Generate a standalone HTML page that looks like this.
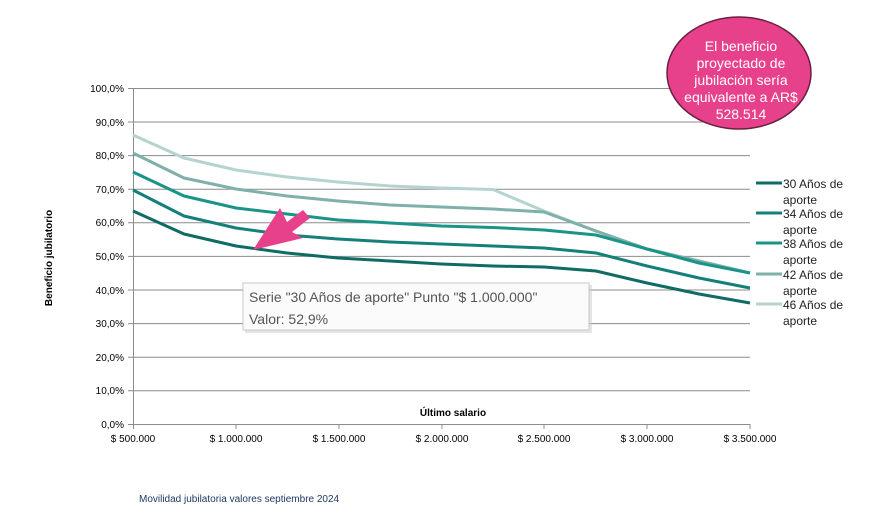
<!DOCTYPE html>
<html><head><meta charset="utf-8"><style>body{margin:0;background:#fff}svg{display:block}</style></head><body>
<svg width="892" height="523" viewBox="0 0 892 523" font-family="Liberation Sans, sans-serif">
<rect width="892" height="523" fill="#fff"/>
<g stroke="#8c8c8c" stroke-width="1">
<line x1="128" y1="88.5" x2="750" y2="88.5"/><line x1="128" y1="122" x2="750" y2="122"/>
<line x1="128" y1="155.6" x2="750" y2="155.6"/><line x1="128" y1="189.2" x2="750" y2="189.2"/>
<line x1="128" y1="222.8" x2="750" y2="222.8"/><line x1="128" y1="256.4" x2="750" y2="256.4"/>
<line x1="128" y1="290" x2="750" y2="290"/><line x1="128" y1="323.6" x2="750" y2="323.6"/>
<line x1="128" y1="357.2" x2="750" y2="357.2"/><line x1="128" y1="390.8" x2="750" y2="390.8"/>
<line x1="128" y1="424.5" x2="750" y2="424.5"/>
<line x1="133.5" y1="88" x2="133.5" y2="429"/>
<line x1="236" y1="424" x2="236" y2="429"/><line x1="339" y1="424" x2="339" y2="429"/>
<line x1="442" y1="424" x2="442" y2="429"/><line x1="544" y1="424" x2="544" y2="429"/>
<line x1="647" y1="424" x2="647" y2="429"/><line x1="750" y1="424" x2="750" y2="429"/>
</g>
<g font-size="10" fill="#000" text-anchor="end">
<text x="124" y="92">100,0%</text><text x="124" y="126">90,0%</text><text x="124" y="159">80,0%</text>
<text x="124" y="193">70,0%</text><text x="124" y="226">60,0%</text><text x="124" y="260">50,0%</text>
<text x="124" y="294">40,0%</text><text x="124" y="327">30,0%</text><text x="124" y="361">20,0%</text>
<text x="124" y="394">10,0%</text><text x="124" y="428">0,0%</text>
</g>
<g font-size="10" fill="#000" text-anchor="middle">
<text x="133" y="442">$ 500.000</text><text x="236" y="442">$ 1.000.000</text><text x="339" y="442">$ 1.500.000</text>
<text x="442" y="442">$ 2.000.000</text><text x="544" y="442">$ 2.500.000</text><text x="647" y="442">$ 3.000.000</text>
<text x="750" y="442">$ 3.500.000</text>
</g>
<text x="453" y="416" font-size="10" font-weight="bold" text-anchor="middle">Último salario</text>
<text transform="translate(52,258) rotate(-90)" font-size="10" font-weight="bold" text-anchor="middle">Beneficio jubilatorio</text>
<g fill="none" stroke-width="3" stroke-linejoin="round">
<polyline stroke="#b5d3cf" points="133,135 184,158 236,170 287,177 338,182 390,186 441,188 493,189.5 544,211 596,231 647,249 699,261 750,273"/>
<polyline stroke="#7fb0a9" points="133,153 184,178 236,189 287,196 338,201 390,205 441,207 493,209 544,212 596,231 647,249 699,261 750,273"/>
<polyline stroke="#1a9488" points="133,172 184,196 236,208 287,214 338,220 390,223 441,226 493,227.5 544,230 596,235 647,249 699,263 750,273"/>
<polyline stroke="#15807a" points="133,190 184,216 236,228 287,235 338,239 390,242 441,244 493,246 544,248 596,253 647,266 699,278 750,288"/>
<polyline stroke="#0f6b63" points="133,211 184,234 236,246 287,253 338,258 390,261 441,264 493,266 544,267 596,271 647,283 699,294 750,303"/>
</g>
<g font-size="12" fill="#222">
<line x1="756" y1="183" x2="782" y2="183" stroke="#0f6b63" stroke-width="3"/><text x="783" y="188">30 Años de</text><text x="783" y="204">aporte</text>
<line x1="756" y1="213" x2="782" y2="213" stroke="#15807a" stroke-width="3"/><text x="783" y="218">34 Años de</text><text x="783" y="234">aporte</text>
<line x1="756" y1="243" x2="782" y2="243" stroke="#1a9488" stroke-width="3"/><text x="783" y="248">38 Años de</text><text x="783" y="264">aporte</text>
<line x1="756" y1="274" x2="782" y2="274" stroke="#7fb0a9" stroke-width="3"/><text x="783" y="279">42 Años de</text><text x="783" y="295">aporte</text>
<line x1="756" y1="304" x2="782" y2="304" stroke="#b5d3cf" stroke-width="3"/><text x="783" y="309">46 Años de</text><text x="783" y="325">aporte</text>
</g>
<rect x="245" y="285" width="347" height="48" fill="#ccc" opacity="0.5"/>
<rect x="243" y="283" width="346" height="47" fill="#fbfbfb" stroke="#c8c8c8"/>
<text x="249" y="302" font-size="14" fill="#555">Serie "30 Años de aporte" Punto "$ 1.000.000"</text>
<text x="249" y="324" font-size="14" fill="#555">Valor: 52,9%</text>
<polygon points="253,250 280,208 287,222 303,210 310,218 292,232 303,238" fill="#e8418c"/>
<ellipse cx="739" cy="73" rx="72" ry="56" fill="#e8418c" stroke="#6b2040" stroke-width="1.5"/>
<g font-size="14" fill="#fff" text-anchor="middle">
<text x="741" y="51">El beneficio</text><text x="741" y="68">proyectado de</text><text x="741" y="85">jubilación sería</text>
<text x="741" y="102">equivalente a AR$</text><text x="741" y="119">528.514</text>
</g>
<text x="139" y="502" font-size="10" fill="#1f3864">Movilidad jubilatoria valores septiembre 2024</text>
</svg>
</body></html>
